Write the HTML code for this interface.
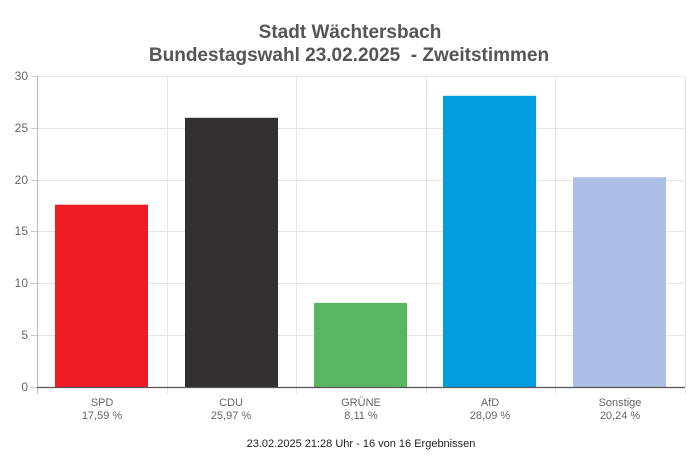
<!DOCTYPE html>
<html><head><meta charset="utf-8"><style>body{margin:0;background:#fff}svg{display:block;font-family:"Liberation Sans",Arial,sans-serif}</style></head>
<body>
<svg width="700" height="464" xmlns="http://www.w3.org/2000/svg">
<rect width="700" height="464" fill="#fff"/>
<text x="350" y="38" text-anchor="middle" font-size="19" font-weight="bold" fill="#555">Stadt Wächtersbach</text>
<text x="349" y="61" text-anchor="middle" font-size="19" font-weight="bold" fill="#555">Bundestagswahl 23.02.2025&#160; - Zweitstimmen</text>
<g stroke="#e6e6e6" stroke-width="1">
<line x1="37" y1="76.5" x2="685" y2="76.5"/>
<line x1="37" y1="128.5" x2="685" y2="128.5"/>
<line x1="37" y1="180.5" x2="685" y2="180.5"/>
<line x1="37" y1="231.5" x2="685" y2="231.5"/>
<line x1="37" y1="283.5" x2="685" y2="283.5"/>
<line x1="37" y1="335.5" x2="685" y2="335.5"/>
<line x1="167.5" y1="76" x2="167.5" y2="394"/>
<line x1="296.5" y1="76" x2="296.5" y2="394"/>
<line x1="426.5" y1="76" x2="426.5" y2="394"/>
<line x1="555.5" y1="76" x2="555.5" y2="394"/>
<line x1="685.5" y1="76" x2="685.5" y2="394"/>
</g>
<line x1="37.5" y1="76" x2="37.5" y2="394" stroke="#bbb"/>
<g stroke="#ccc"><line x1="31" y1="76.5" x2="37" y2="76.5"/><line x1="31" y1="128.5" x2="37" y2="128.5"/><line x1="31" y1="180.5" x2="37" y2="180.5"/><line x1="31" y1="231.5" x2="37" y2="231.5"/><line x1="31" y1="283.5" x2="37" y2="283.5"/><line x1="31" y1="335.5" x2="37" y2="335.5"/><line x1="31" y1="387.5" x2="37" y2="387.5"/></g>
<g font-size="12" fill="#666" text-anchor="end">
<text x="28" y="80">30</text><text x="28" y="132">25</text><text x="28" y="184">20</text><text x="28" y="235">15</text><text x="28" y="287">10</text><text x="28" y="339">5</text><text x="28" y="391">0</text>
</g>
<rect x="55" y="204.7" width="93" height="182.3" fill="#ed1c24"/>
<rect x="185" y="117.8" width="93" height="269.2" fill="#323031"/>
<rect x="314" y="302.9" width="93" height="84.1" fill="#58b560"/>
<rect x="443" y="95.8" width="93" height="291.2" fill="#009ee0"/>
<rect x="573" y="177.2" width="93" height="209.8" fill="#abbfe5"/>
<line x1="37" y1="387.5" x2="685" y2="387.5" stroke="#555" stroke-width="1.2"/>
<g font-size="11" fill="#666" text-anchor="middle">
<text x="102" y="406">SPD</text><text x="102" y="419">17,59 %</text>
<text x="231" y="406">CDU</text><text x="231" y="419">25,97 %</text>
<text x="361" y="406">GRÜNE</text><text x="361" y="419">8,11 %</text>
<text x="490" y="406">AfD</text><text x="490" y="419">28,09 %</text>
<text x="620" y="406">Sonstige</text><text x="620" y="419">20,24 %</text>
</g>
<text x="361" y="447" text-anchor="middle" font-size="11" fill="#222">23.02.2025 21:28 Uhr - 16 von 16 Ergebnissen</text>
</svg>
</body></html>
